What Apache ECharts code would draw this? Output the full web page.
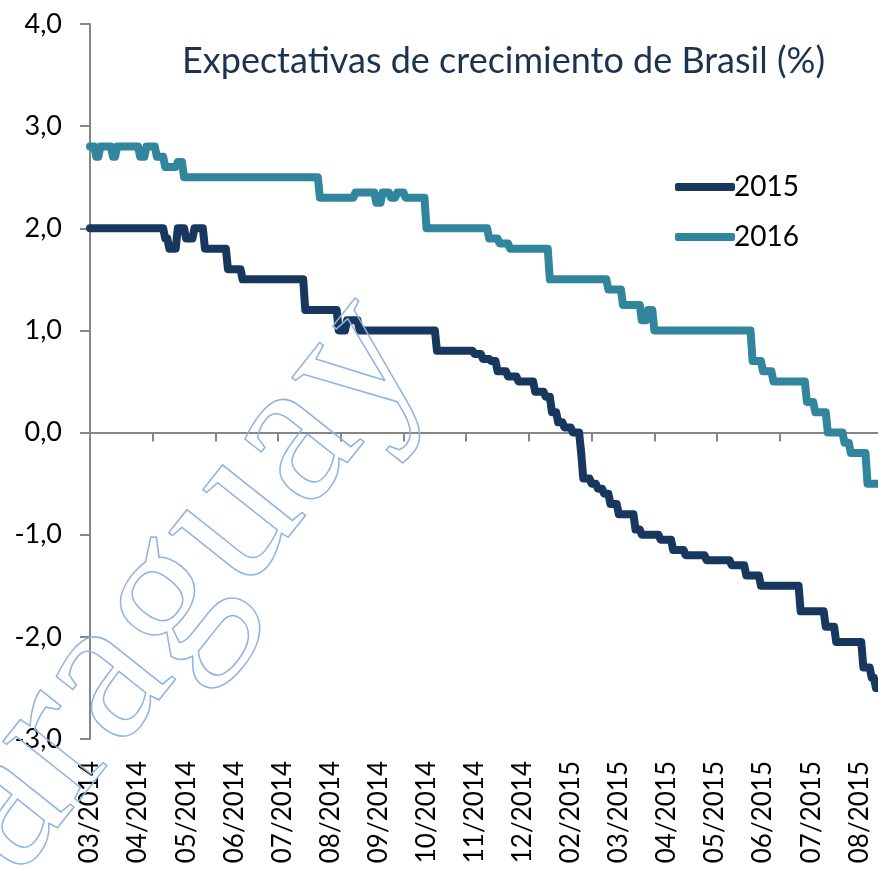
<!DOCTYPE html>
<html>
<head>
<meta charset="utf-8">
<script src="https://cdn.jsdelivr.net/npm/echarts@6/dist/echarts.min.js"></script>
<style>
  html, body { margin: 0; padding: 0; background: #ffffff; }
  #chart { width: 878px; height: 869px; }
</style>
</head>
<body>
<div id="chart"></div>
<script>
// month labels shown under the axis (one every 23 survey days)
var tickLabels = ['03/2014', '04/2014', '05/2014', '06/2014', '07/2014', '08/2014', '09/2014',
  '10/2014', '11/2014', '12/2014', '02/2015', '03/2015', '04/2015', '05/2015', '06/2015',
  '07/2015', '08/2015']

// daily survey values, stored as [value, number of days] steps
var steps2015 = [
  [2.0, 36], [1.9, 2], [1.8, 4], [2.0, 4], [1.9, 4], [2.0, 5], [1.8, 11], [1.6, 7],
  [1.5, 30], [1.2, 16], [1.0, 4], [1.1, 6], [1.0, 37], [0.8, 18], [0.77, 4], [0.72, 4],
  [0.7, 3], [0.6, 5], [0.55, 5], [0.5, 8], [0.4, 5], [0.35, 3], [0.2, 3], [0.1, 3],
  [0.05, 4], [0.0, 4], [-0.2, 1], [-0.45, 4], [-0.5, 3], [-0.55, 3], [-0.6, 3], [-0.7, 4],
  [-0.8, 8], [-0.95, 3], [-1.0, 9], [-1.05, 6], [-1.15, 6], [-1.2, 10], [-1.25, 12],
  [-1.3, 7], [-1.4, 7], [-1.5, 19], [-1.75, 12], [-1.9, 5], [-2.05, 13], [-2.3, 4],
  [-2.4, 2], [-2.5, 2]
]
var steps2016 = [
  [2.8, 3], [2.7, 2], [2.8, 6], [2.7, 2], [2.8, 11], [2.7, 3], [2.8, 5], [2.7, 4], [2.6, 6],
  [2.65, 3], [2.5, 65], [2.3, 17], [2.35, 10], [2.25, 3], [2.35, 4], [2.3, 3], [2.35, 4],
  [2.3, 10], [2.0, 30], [1.9, 5], [1.85, 5], [1.8, 19], [1.5, 28], [1.4, 7], [1.25, 9],
  [1.1, 3], [1.2, 3], [1.0, 47], [0.7, 5], [0.6, 5], [0.5, 16], [0.3, 4], [0.2, 6],
  [0.0, 8], [-0.1, 3], [-0.2, 8], [-0.5, 6]
]

function expand (steps) {
  var out = []
  steps.forEach(function (s) {
    for (var k = 0; k < s[1]; k++) out.push(s[0])
  })
  return out
}

var data2015 = expand(steps2015)
var data2016 = expand(steps2016)
var days = data2015.map(function (v, i) { return String(i) })

var axisGrey = '#868686'
var font = 'Lato'

var myChart = echarts.init(document.getElementById('chart'), null, { renderer: 'canvas' })
myChart.setOption({
  backgroundColor: '#ffffff',
  animation: false,
  title: {
    text: 'Expectativas de crecimiento de Brasil (%)',
    left: 177,
    top: 38,
    textStyle: { fontFamily: font, fontSize: 36, fontWeight: 'normal', color: '#1c3350' }
  },
  legend: {
    orient: 'vertical',
    left: 670,
    top: 168,
    itemWidth: 60,
    itemHeight: 8,
    itemGap: 22,
    data: [{ name: '2015', icon: 'roundRect' }, { name: '2016', icon: 'roundRect' }],
    textStyle: { fontFamily: font, fontSize: 28, color: '#000000', padding: [0, 0, 0, -6] }
  },
  grid: {
    left: 90,
    right: 0,
    top: 24,
    bottom: 130,
    outerBoundsMode: 'none'
  },
  xAxis: [{
    type: 'category',
    data: days,
    boundaryGap: false,
    axisLine: { onZero: true, lineStyle: { color: axisGrey, width: 2 } },
    axisTick: { show: true, interval: 29, length: 9, lineStyle: { color: axisGrey, width: 2 } },
    axisLabel: { show: false },
    splitLine: { show: false }
  }, {
    type: 'category',
    data: days,
    boundaryGap: false,
    position: 'bottom',
    axisLine: { show: false, onZero: false },
    axisTick: { show: false },
    axisLabel: {
      interval: 22,
      rotate: 90,
      margin: 22,
      fontFamily: font,
      fontSize: 26,
      color: '#000000',
      formatter: function (val, idx) {
        return idx % 23 === 0 ? (tickLabels[idx / 23] || '') : ''
      }
    },
    splitLine: { show: false }
  }],
  yAxis: {
    type: 'value',
    min: -3,
    max: 4,
    interval: 1,
    axisLine: { show: true, lineStyle: { color: axisGrey, width: 2 } },
    axisTick: { show: true, length: 10, lineStyle: { color: axisGrey, width: 2 } },
    axisLabel: {
      margin: 28,
      fontFamily: font,
      fontSize: 27,
      color: '#000000',
      formatter: function (v) { return v.toFixed(1).replace('.', ',') }
    },
    splitLine: { show: false }
  },
  graphic: [{
    type: 'text',
    x: -98,
    y: 935,
    rotation: 0.9,
    z: 100,
    silent: true,
    style: {
      text: 'Paraguay',
      font: '210px "Liberation Serif"',
      textAlign: 'left',
      textVerticalAlign: 'middle',
      fill: 'rgba(0,0,0,0)',
      stroke: '#8db4e2',
      lineWidth: 1.5
    }
  }],
  series: [{
    name: '2015',
    type: 'line',
    data: data2015,
    symbol: 'none',
    showSymbol: false,
    color: '#17375e',
    lineStyle: { width: 8, color: '#17375e', cap: 'round', join: 'round' }
  }, {
    name: '2016',
    type: 'line',
    data: data2016,
    symbol: 'none',
    showSymbol: false,
    color: '#31859c',
    lineStyle: { width: 8, color: '#31859c', cap: 'round', join: 'round' }
  }]
})
</script>
</body>
</html>
